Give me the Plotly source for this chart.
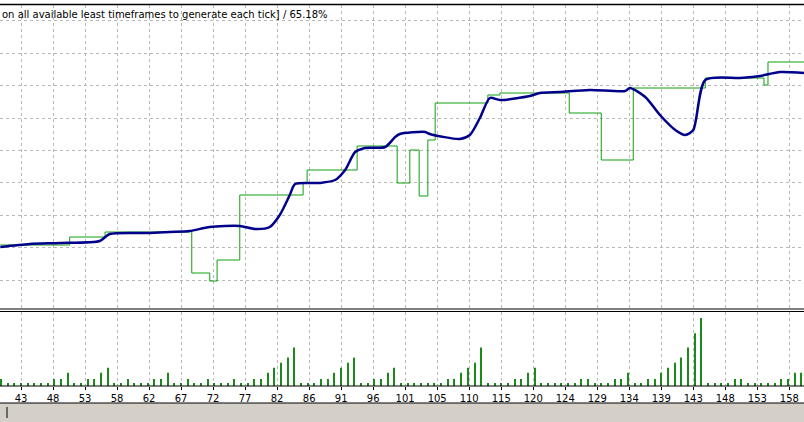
import plotly.graph_objects as go

# blue curve (trade no, value)
blue_x = [39.9, 44.3, 48.8, 54.8, 56.3, 62.3, 65.3, 68.3, 71.3, 75.8, 78.1, 80.3, 81.8, 83.3, 84.1,
          87.8, 90.1, 91.6, 93.1, 94.6, 97.6, 99.1, 99.8, 103.6, 104.3, 108.8, 110.3, 111.8, 113.3,
          114.8, 119.3, 120.8, 123.8, 128.3, 133.6, 134.3, 136.6, 138.8, 141.1, 142.6, 143.8, 145.6,
          150.8, 153.8, 156.8, 160.4]
blue_y = [61, 64, 65, 67, 74, 75, 76, 77, 81, 82, 79, 81, 93, 113, 124,
          125, 128, 138, 156, 160, 161, 171, 174, 176, 174, 169, 173, 190, 210,
          208, 212, 215, 216, 218, 217, 220, 211, 193, 178, 173, 178, 228,
          230, 232, 236, 235]

# green step line
green_x = [39.9, 50.3, 55.6, 68.3, 68.6, 71.3, 72.4, 75.8, 85.3, 85.9, 93.4, 99.4, 101.3, 102.7,
           104.0, 105.1, 113.0, 114.8, 125.2, 130.0, 134.8, 145.6, 154.4, 155.0, 160.4]
green_y = [63, 71, 76, 77, 35, 27, 48, 113, 125, 138, 162, 125, 158, 112,
           168, 205, 213, 215, 195, 148, 220, 230, 223, 246, 246]

# lower panel bars, trades 40..160
bar_x = list(range(40, 161))
bar_y = [7, 3, 3, 3, 3, 3, 3, 3, 7, 7,
         13, 3, 3, 7, 7, 13, 18, 3, 3, 7,
         3, 3, 3, 7, 7, 13, 3, 3, 7, 3,
         3, 7, 3, 3, 3, 7, 3, 3, 7, 7,
         13, 18, 23, 28, 38, 3, 3, 3, 7, 7,
         13, 18, 23, 28, 3, 3, 7, 7, 13, 18,
         3, 3, 3, 3, 3, 3, 3, 7, 7, 13,
         18, 23, 38, 3, 3, 3, 3, 7, 7, 13,
         18, 3, 3, 3, 3, 3, 3, 7, 7, 3,
         3, 3, 7, 7, 13, 3, 3, 7, 7, 13,
         18, 23, 28, 38, 52, 67, 3, 3, 3, 3,
         7, 7, 3, 3, 3, 3, 3, 7, 7, 13,
         13]

tick_labels = ["43", "48", "53", "58", "62", "67", "72", "77", "82", "86", "91", "96", "101",
               "105", "110", "115", "120", "124", "129", "134", "139", "143", "148", "153", "158"]
tick_vals = [43 + 4.8 * i for i in range(len(tick_labels))]

H = 422.0
top_dom = [1 - 308 / H, 1 - 5 / H]
bot_dom = [1 - 386 / H, 1 - 312 / H]
xr = [39.85, 160.4]

fig = go.Figure()
fig.add_trace(go.Scatter(x=green_x, y=green_y, mode="lines", line=dict(color="#10a010", width=1, shape="hv"),
                         xaxis="x", yaxis="y"))
fig.add_trace(go.Scatter(x=blue_x, y=blue_y, mode="lines", line=dict(color="#00008b", width=2.5, shape="spline", smoothing=0.7),
                         xaxis="x", yaxis="y"))
fig.add_trace(go.Bar(x=bar_x, y=bar_y, width=0.16, marker=dict(color="#1a8a1a", line_width=0),
                     xaxis="x2", yaxis="y2"))

grid = dict(showgrid=True, gridcolor="#b8b8b8", griddash="3px,3px", gridwidth=1)
fig.update_layout(
    width=804, height=422, margin=dict(l=0, r=0, t=0, b=0, autoexpand=False),
    paper_bgcolor="white", plot_bgcolor="white", showlegend=False,
    font=dict(family="DejaVu Sans", size=10, color="black"),
    xaxis=dict(domain=[0, 1], range=xr, anchor="y", tickvals=tick_vals, showticklabels=False,
               zeroline=False, automargin=False, **grid),
    yaxis=dict(domain=top_dom, range=[0, 303], tick0=28, dtick=32.4, showticklabels=False,
               zeroline=False, automargin=False, **grid),
    xaxis2=dict(domain=[0, 1], range=xr, anchor="y2", tickvals=tick_vals, ticktext=tick_labels,
                ticks="outside", ticklen=3, tickcolor="black", zeroline=False, automargin=False, **grid),
    yaxis2=dict(domain=bot_dom, range=[0, 73], showticklabels=False, showgrid=False, zeroline=False,
                automargin=False),
    annotations=[dict(text="on all available least timeframes to generate each tick] / 65.18%",
                      xref="paper", yref="paper", x=0, y=1 - 14 / H, xanchor="left", yanchor="middle",
                      showarrow=False, font=dict(size=10))],
    shapes=[
        dict(type="line", xref="paper", yref="paper", x0=0, x1=1, y0=1 - 4.5 / H, y1=1 - 4.5 / H, line=dict(color="black", width=1.5)),
        dict(type="line", xref="paper", yref="paper", x0=0, x1=1, y0=1 - 309 / H, y1=1 - 309 / H, line=dict(color="black", width=1)),
        dict(type="line", xref="paper", yref="paper", x0=0, x1=1, y0=1 - 311.5 / H, y1=1 - 311.5 / H, line=dict(color="black", width=1)),
        dict(type="line", xref="paper", yref="paper", x0=0, x1=1, y0=1 - 386 / H, y1=1 - 386 / H, line=dict(color="black", width=1)),
        dict(type="rect", xref="paper", yref="paper", x0=0, x1=1, y0=0, y1=1 - 403 / H, fillcolor="#d4d0c8", line_width=0),
        dict(type="line", xref="paper", yref="paper", x0=0, x1=1, y0=1 - 403 / H, y1=1 - 403 / H, line=dict(color="black", width=1)),
        dict(type="line", xref="paper", yref="paper", x0=7 / 804, x1=7 / 804, y0=1 - 418 / H, y1=1 - 407 / H, line=dict(color="black", width=1)),
    ],
)
# page body has a default margin; drop it so the figure fills the window
fig.write_html("out.html", config={"displayModeBar": False},
               post_script="document.body.style.margin='0';")
